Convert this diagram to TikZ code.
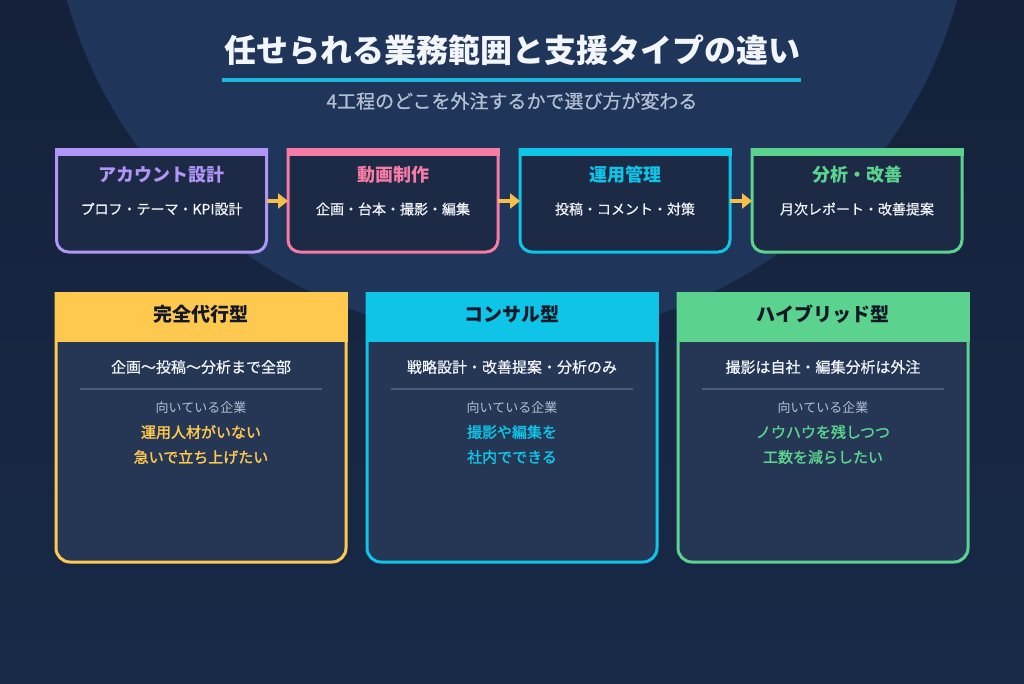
\documentclass[tikz,border=0pt]{standalone}
\usepackage{fontspec}
\setmainfont{Noto Sans CJK JP}
\newfontfamily\medfont{Noto Sans CJK JP}[FakeBold=0.6]
\newfontfamily\semifont{Noto Sans CJK JP}[FakeBold=1.6]
\usetikzlibrary{arrows.meta}
\definecolor{bgtop}{HTML}{15213A}
\definecolor{bgbot}{HTML}{182A48}
\definecolor{circ}{HTML}{1F355A}
\definecolor{boxfill}{HTML}{1C2A46}
\definecolor{cardfill}{HTML}{253755}
\definecolor{txtwhite}{HTML}{F2F5FA}
\definecolor{txtgray}{HTML}{B4C0D2}
\definecolor{divider}{HTML}{4B5D7C}
\definecolor{cpurple}{HTML}{B096F7}
\definecolor{cpink}{HTML}{F67BA5}
\definecolor{ccyan}{HTML}{0EC5E8}
\definecolor{cgreen}{HTML}{5BD38E}
\definecolor{cyellow}{HTML}{FFC84F}
\definecolor{arrowc}{HTML}{F7BE4A}
\definecolor{headtxt}{HTML}{111827}
\definecolor{uline}{HTML}{1EB8DD}
\tikzset{
  frame/.style={inner sep=0pt, outer sep=0pt},
  stepttl/.style={font=\fontsize{18}{22}\selectfont\bfseries},
  stepsub/.style={font=\medfont\fontsize{14}{17}\selectfont, text=txtwhite},
  cardttl/.style={font=\fontsize{19}{23}\selectfont\bfseries, text=headtxt},
  cardline/.style={font=\medfont\fontsize{15}{18}\selectfont, text=txtwhite},
  cardlabel/.style={font=\fontsize{13}{16}\selectfont, text=txtgray},
  cardhl/.style={font=\semifont\fontsize{15}{25}\selectfont, align=center},
  flow/.style={draw=arrowc, line width=4pt, -{Triangle[length=10pt,width=15pt]}}
}
\begin{document}
\begin{tikzpicture}[x=1pt,y=-1pt]
\useasboundingbox (0,0) rectangle (1024,683);
\clip (0,0) rectangle (1024,683);
\shade[top color=bgtop, bottom color=bgbot] (0,0) rectangle (1024,683);
\fill[circ] (512,-124) circle[radius=462];

% title
\node[font=\fontsize{32}{38}\selectfont\bfseries, text=txtwhite] (title) at (512,50) {任せられる業務範囲と支援タイプの違い};
\fill[uline] (222,78) rectangle (801,82);
\node[font=\medfont\fontsize{19}{23}\selectfont, text=txtgray] (subtitle) at (512,101) {4工程のどこを外注するかで選び方が変わる};

% step boxes
\node[frame, minimum width=210pt, minimum height=104pt] (s1) at (161.5,200) {};
\node[frame, minimum width=210pt, minimum height=104pt] (s2) at (393,200) {};
\node[frame, minimum width=210pt, minimum height=104pt] (s3) at (625,200) {};
\node[frame, minimum width=210pt, minimum height=104pt] (s4) at (857,200) {};
\foreach \n/\c in {s1/cpurple, s2/cpink, s3/ccyan, s4/cgreen}{
  \draw[fill=boxfill, draw=\c, line width=3pt, rounded corners=12pt]
    (\n.north west) -- (\n.south west) -- (\n.south east) -- (\n.north east);
  \fill[\c] ([xshift=-1.5pt]\n.north west) rectangle ([xshift=1.5pt,yshift=-8pt]\n.north east);
}
\node[stepttl, text=cpurple] (s1t) at (161.5,175) {アカウント設計};
\node[stepsub] (s1s) at (161.5,209) {プロフ・テーマ・KPI設計};
\node[stepttl, text=cpink] (s2t) at (393,175) {動画制作};
\node[stepsub] (s2s) at (393,209) {企画・台本・撮影・編集};
\node[stepttl, text=ccyan] (s3t) at (625,175) {運用管理};
\node[stepsub] (s3s) at (625,209) {投稿・コメント・対策};
\node[stepttl, text=cgreen] (s4t) at (857,175) {分析・改善};
\node[stepsub] (s4s) at (857,209) {月次レポート・改善提案};

\draw[flow] ([yshift=-1pt]s1.east) -- ([yshift=-1pt]s2.west);
\draw[flow] ([yshift=-1pt]s2.east) -- ([yshift=-1pt]s3.west);
\draw[flow] ([yshift=-1pt]s3.east) -- ([yshift=-1pt]s4.west);

% cards
\node[frame, minimum width=290pt, minimum height=270pt] (c1) at (201,427) {};
\node[frame, minimum width=290pt, minimum height=270pt] (c2) at (512,427) {};
\node[frame, minimum width=290pt, minimum height=270pt] (c3) at (823,427) {};
\foreach \n/\c in {c1/cyellow, c2/ccyan, c3/cgreen}{
  \draw[fill=cardfill, draw=\c, line width=3pt, rounded corners=14pt]
    (\n.north west) -- (\n.south west) -- (\n.south east) -- (\n.north east);
  \fill[\c] ([xshift=-1.5pt]\n.north west) rectangle ([xshift=1.5pt,yshift=-50pt]\n.north east);
  \draw[divider, line width=2pt] ([xshift=24pt,yshift=-97pt]\n.north west) -- ([xshift=-24pt,yshift=-97pt]\n.north east);
}
\node[cardttl] (c1t) at (201,314) {完全代行型};
\node[cardline] (c1l) at (201,367) {企画〜投稿〜分析まで全部};
\node[cardlabel] (c1g) at (201,408) {向いている企業};
\node[cardhl, text=cyellow] (c1h) at (201,444.5) {運用人材がいない\\急いで立ち上げたい};

\node[cardttl] (c2t) at (512,314) {コンサル型};
\node[cardline] (c2l) at (512,367) {戦略設計・改善提案・分析のみ};
\node[cardlabel] (c2g) at (512,408) {向いている企業};
\node[cardhl, text=ccyan] (c2h) at (512,444.5) {撮影や編集を\\社内でできる};

\node[cardttl] (c3t) at (823,314) {ハイブリッド型};
\node[cardline] (c3l) at (823,367) {撮影は自社・編集分析は外注};
\node[cardlabel] (c3g) at (823,408) {向いている企業};
\node[cardhl, text=cgreen] (c3h) at (823,444.5) {ノウハウを残しつつ\\工数を減らしたい};
\end{tikzpicture}
\end{document}
